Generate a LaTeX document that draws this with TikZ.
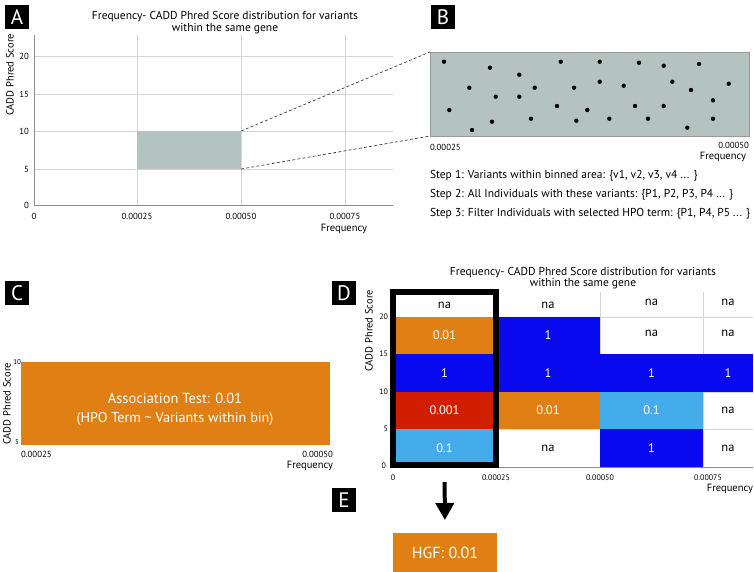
\documentclass[tikz,border=0pt]{standalone}
\usepackage{fontspec}
\setmainfont{PT Sans}
\usetikzlibrary{arrows.meta}
\definecolor{gg}{HTML}{B4C3C0}
\definecolor{cor}{HTML}{DF7F14}
\definecolor{cbl}{HTML}{0A0AF0}
\definecolor{clb}{HTML}{45ACEC}
\definecolor{crd}{HTML}{D21E00}
\definecolor{gridc}{HTML}{D4D4D4}
\definecolor{axc}{HTML}{8A8A8A}
\newcommand{\fs}[1]{\fontsize{#1}{#1}\selectfont}
\tikzset{
  lbl/.style={fill=black, text=white, minimum width=24pt, minimum height=24pt, font=\fs{21}},
  tick/.style={font=\fs{8.8}},
  tickd/.style={font=\fs{8}},
  axlab/.style={font=\fs{10.5}},
  gridl/.style={draw=gridc, line width=0.8pt},
  axl/.style={draw=axc, line width=0.8pt},
  dashl/.style={draw=black!75, dash pattern=on 3pt off 2.2pt, line width=0.7pt},
  cellbox/.style={minimum height=#1, font=\fs{12.5}},
  dot/.style={circle, fill=black, minimum size=4.4pt},
  steptxt/.style={anchor=west, font=\fs{11.5}},
}
\begin{document}
\begin{tikzpicture}[x=1pt,y=-1pt, every node/.style={inner sep=0pt, outer sep=0pt}]
\useasboundingbox[fill=white] (0,0) rectangle (754,571);

% ---------------- Panel A ----------------
\node[lbl] (la) at (17,17) {A};
\node[align=center, font=\fs{11.5}] (ta) at (225,22.5) {Frequency- CADD Phred Score distribution for variants\\[1pt]within the same gene};
\foreach \yy in {56,94,131,169} \draw[gridl] (34,\yy) -- (393,\yy);
\foreach \xx in {137,241,345} \draw[gridl] (\xx,35) -- (\xx,205);
\draw[axl] (34,35) -- (34,205) -- (393,205);
\node[draw=none, fill=gg, minimum width=104pt, minimum height=38pt] (ar) at (189,150) {};
\node[tick, anchor=east] (ya20) at (29,56) {20};
\node[tick, anchor=east] (ya15) at (29,94) {15};
\node[tick, anchor=east] (ya10) at (29,131) {10};
\node[tick, anchor=east] (ya5) at (29,169) {5};
\node[tick, anchor=east] (ya0) at (29,205) {0};
\node[tick] (xa0) at (34,216) {0};
\node[tick] (xa1) at (137,216) {0.00025};
\node[tick] (xa2) at (241,216) {0.00050};
\node[tick] (xa3) at (345,216) {0.00075};
\node[axlab, anchor=east] (fa) at (367,229) {Frequency};
\node[axlab, rotate=90] (ca) at (10,75) {CADD Phred Score};

% ---------------- Panel B ----------------
\node[lbl] (lb) at (443,17) {B};
\node[draw=black!40, line width=0.5pt, fill=gg, minimum width=319pt, minimum height=84pt] (br) at (589.5,94) {};
\draw[dashl] (ar.north east) -- (br.north west);
\draw[dashl] (ar.south east) -- (br.south west);
\foreach \px/\py in {444/61.7, 490/67.7, 469.3/87.7, 449.3/110, 472/130, 495.7/96.7, 492/121.7, 519.3/74.7, 519.3/96.7, 534.7/87.7, 531/118.7, 560.7/61.7, 557/106, 574/87.7, 576.3/120.7, 587.3/110, 599.7/61.7, 599.7/81.7, 609.3/118.7, 623.7/85.7, 635/106, 639/62.7, 648/118.7, 663.7/65.7, 663.7/106, 672.3/81.7, 691/90, 699/64, 687.3/127.7, 713/100.3, 713/118.7, 728.7/83.7}
  \node[dot] at (\px,\py) {};
\node[tick, anchor=west] (xb1) at (430,147) {0.00025};
\node[tick, anchor=east] (xb2) at (749,145) {0.00050};
\node[axlab, anchor=east] (fb) at (746,156.5) {Frequency};
\node[steptxt] (s1) at (430,176) {Step 1: Variants within binned area: \{v1, v2, v3, v4 ... \}};
\node[steptxt] (s2) at (430,195) {Step 2: All Individuals with these variants: \{P1, P2, P3, P4 ... \}};
\node[steptxt] (s3) at (430,214) {Step 3: Filter Individuals with selected HPO term: \{P1, P4, P5 ... \}};

% ---------------- Panel C ----------------
\node[lbl] (lc) at (17,293) {C};
\node[fill=cor, minimum width=309pt, minimum height=83pt] (cr) at (175.5,403.5) {};
\node[text=white, font=\fs{14.5}] (ct1) at (175,398) {Association Test: 0.01};
\node[text=white, font=\fs{14.2}] (ct2) at (175,419) {(HPO Term \textasciitilde{} Variants within bin)};
\node[font=\fs{7}, anchor=east] (yc10) at (21,362) {10};
\node[font=\fs{7}, anchor=east] (yc5) at (19,442) {5};
\node[axlab, rotate=90] (cc) at (7,404) {CADD Phred Score};
\node[tick, anchor=west] (xc1) at (21,454) {0.00025};
\node[tick, anchor=east] (xc2) at (333,454) {0.00050};
\node[axlab, anchor=east] (fc) at (333,466) {Frequency};

% ---------------- Panel D ----------------
\node[lbl] (ld) at (344,293) {D};
\node[align=center, font=\fs{11.5}] (td) at (583,278) {Frequency- CADD Phred Score distribution for variants\\[0pt]within the same gene};
\node[axlab, rotate=90] (cd) at (369,331) {CADD Phred Score};
\foreach \xx in {600,703} \draw[gridl] (\xx,292) -- (\xx,467);
\foreach \yy in {317,354,392,429} \draw[gridl] (496,\yy) -- (753,\yy);
\draw[axl] (393,467) -- (753,467);
% row 20-25
\node[cellbox=25pt, minimum width=103pt] (n11) at (444.5,305) {na};
\node[cellbox=25pt, minimum width=104pt] (n12) at (548,305) {na};
\node[cellbox=25pt, minimum width=103pt] (n13) at (651.5,302) {na};
\node[cellbox=25pt, minimum width=50pt] (n14) at (728,302) {na};
% row 15-20
\node[cellbox=37pt, minimum width=103pt, fill=cor, text=white] (n21) at (444.5,335.5) {0.01};
\node[cellbox=37pt, minimum width=104pt, fill=cbl, text=white] (n22) at (548,335.5) {1};
\node[cellbox=37pt, minimum width=103pt] (n23) at (651.5,333) {na};
\node[cellbox=37pt, minimum width=50pt] (n24) at (728,333) {na};
% row 10-15
\node[cellbox=38pt, minimum width=103pt, fill=cbl, text=white] (n31) at (444.5,373) {1};
\node[cellbox=38pt, minimum width=104pt, fill=cbl, text=white] (n32) at (548,373) {1};
\node[cellbox=38pt, minimum width=103pt, fill=cbl, text=white] (n33) at (651.5,373) {1};
\node[cellbox=38pt, minimum width=50pt, fill=cbl, text=white] (n34) at (728,373) {1};
% row 5-10
\node[cellbox=37pt, minimum width=103pt, fill=crd, text=white] (n41) at (444.5,410.5) {0.001};
\node[cellbox=37pt, minimum width=104pt, fill=cor, text=white] (n42) at (548,410.5) {0.01};
\node[cellbox=37pt, minimum width=103pt, fill=clb, text=white] (n43) at (651.5,410.5) {0.1};
\node[cellbox=37pt, minimum width=50pt] (n44) at (728,410.5) {na};
% row 0-5
\node[cellbox=38pt, minimum width=103pt, fill=clb, text=white] (n51) at (444.5,448) {0.1};
\node[cellbox=38pt, minimum width=104pt] (n52) at (548,448) {na};
\node[cellbox=38pt, minimum width=103pt, fill=cbl, text=white] (n53) at (651.5,448) {1};
\node[cellbox=38pt, minimum width=50pt] (n54) at (728,448) {na};
% highlight box
\node[draw=black, line width=6pt, minimum width=103pt, minimum height=173pt] (hl) at (444.5,378.5) {};
% axis labels
\node[tickd, anchor=east] (yd20) at (388,317) {20};
\node[tickd, anchor=east] (yd15) at (388,354) {15};
\node[tickd, anchor=east] (yd10) at (388,392) {10};
\node[tickd, anchor=east] (yd5) at (388,429) {5};
\node[tickd, anchor=east] (yd0) at (386,466) {0};
\node[tickd] (xd0) at (393,478) {0};
\node[tickd] (xd1) at (496,478) {0.00025};
\node[tickd] (xd2) at (600,478) {0.00050};
\node[tickd] (xd3) at (708,478) {0.00075};
\node[axlab, anchor=east] (fd) at (753,489) {Frequency};

% ---------------- Panel E ----------------
\node[lbl] (le) at (344,500) {E};
\node[fill=cor, text=white, minimum width=104pt, minimum height=40pt, font=\fs{16}] (hgf) at (445,553) {HGF: 0.01};
\draw[line width=4pt, -{Triangle[length=17pt,width=18pt]}, shorten <=17pt, shorten >=13pt] (hl.south) -- (hgf.north);
\end{tikzpicture}
\end{document}
